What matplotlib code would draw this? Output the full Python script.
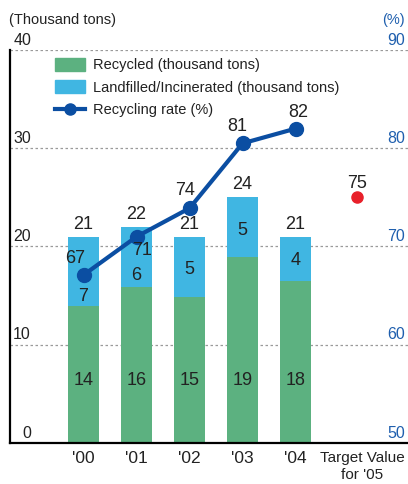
import numpy as np
import matplotlib
matplotlib.use("Agg")
import matplotlib.pyplot as plt
from matplotlib.patches import Patch
from matplotlib.lines import Line2D
from matplotlib import transforms

plt.rcParams['font.family'] = ['Liberation Sans', 'DejaVu Sans']

# data
years = ["'00", "'01", "'02", "'03", "'04"]
recycled = [13.9, 15.9, 14.9, 18.9, 16.5]
landfilled = [7.1, 6.1, 6.1, 6.1, 4.5]
recycled_lbl = ["14", "16", "15", "19", "18"]
landfilled_lbl = ["7", "6", "5", "5", "4"]
total_lbl = ["21", "22", "21", "24", "21"]
rate = [67.1, 71, 73.9, 80.5, 82]
rate_lbl = ["67", "71", "74", "81", "82"]
target_name = "Target Value\nfor '05"
target_rate = 75

green = "#5cb180"
blue = "#40b6e2"
line_blue = "#0b4ea2"
tick_blue = "#1f5fae"
txt = "#222222"

fig = plt.figure(figsize=(4.08, 4.84), dpi=100)
ax = fig.add_axes([10/408, 1 - 443/484, 398/408, 393/484])
ax2 = ax.twinx()

x = np.arange(len(years))
w = 0.585
ax.bar(x, recycled, w, color=green, zorder=2)
ax.bar(x, landfilled, w, bottom=recycled, color=blue, zorder=2)

ax.set_xlim(-1.387, 6.12)
ax.set_ylim(0, 40)
ax2.set_ylim(50, 90)

# dashed grid
for v in [10, 20, 30, 40]:
    ax.axhline(v, color="#9a9a9a", lw=0.9, ls=(0, (2, 2)), zorder=1)

# labels inside bars
for i in range(len(years)):
    ax.text(x[i], 6.4, recycled_lbl[i], ha="center", va="center", fontsize=13, color=txt, zorder=4)
nudge = [-2.5, -1.9, -0.3, -0.3, -0.2]
for i in range(len(years)):
    mid = recycled[i] + landfilled[i] / 2 + nudge[i]
    ax.text(x[i], mid, landfilled_lbl[i], ha="center", va="center", fontsize=13, color=txt, zorder=4)
for i in range(len(years)):
    ax.annotate(total_lbl[i], (x[i], recycled[i] + landfilled[i]), xytext=(0, 3),
                textcoords="offset points", ha="center", va="bottom", fontsize=13, color=txt)

# recycling rate line
ax2.plot(x, rate, color=line_blue, lw=3, marker="o", ms=10, zorder=5)
offs = [(-6, 12), (4, -10), (-3, 13), (-4, 12), (2, 11.5)]
for i in range(len(years)):
    ax2.annotate(rate_lbl[i], (x[i], rate[i]), xytext=offs[i], textcoords="offset points",
                 ha="center", va="center", fontsize=13, color=txt, zorder=6)

tx = 5.15
ax2.plot([tx], [target_rate], "o", color="#e8202a", ms=8, zorder=5)
ax2.annotate(str(target_rate), (tx, target_rate), xytext=(0, 10), textcoords="offset points",
             ha="center", va="center", fontsize=13, color=txt)

# axes styling
for a in (ax, ax2):
    a.spines["top"].set_visible(False)
    a.spines["right"].set_visible(False)
    a.set_yticks([])
ax2.spines["left"].set_visible(False)
ax2.spines["bottom"].set_visible(False)
ax.spines["left"].set_linewidth(1.6)
ax.spines["bottom"].set_linewidth(1.6)

ax.set_xticks(list(x) + [5.25])
ax.set_xticklabels(years + [target_name], fontsize=12.5, color=txt)
ax.tick_params(axis="x", length=0, pad=6)
tl = ax.get_xticklabels()[-1]
tl.set_fontsize(11)
tl.set_linespacing(1.25)

# y tick labels drawn inside the plot, above each gridline
trl = transforms.blended_transform_factory(ax.transAxes, ax.transData)
for v in [0, 10, 20, 30, 40]:
    ax.text(21/398, v + 0.25, str(v), transform=trl, ha="right", va="bottom", fontsize=11.5, color=txt)
trr = transforms.blended_transform_factory(ax2.transAxes, ax2.transData)
for v in [50, 60, 70, 80, 90]:
    ax2.text(395/398, v + 0.25, str(v), transform=trr, ha="right", va="bottom", fontsize=11.5, color=tick_blue)

fig.text(9/408, 1 - 20/484, "(Thousand tons)", ha="left", va="center", fontsize=10.5, color=txt)
fig.text(405/408, 1 - 20/484, "(%)", ha="right", va="center", fontsize=10.5, color=tick_blue)

handles = [Patch(color=green), Patch(color=blue),
           Line2D([], [], color=line_blue, lw=3, marker="o", ms=8)]
labels = ["Recycled (thousand tons)", "Landfilled/Incinerated (thousand tons)", "Recycling rate (%)"]
leg = ax.legend(handles, labels, loc="upper left", bbox_to_anchor=(39/398, 0.995), frameon=False,
                fontsize=10.5, handlelength=2.1, handleheight=1.0, labelspacing=0.55,
                handletextpad=0.5, borderaxespad=0)
for t in leg.get_texts():
    t.set_color(txt)

fig.savefig("out.png", dpi=100)
